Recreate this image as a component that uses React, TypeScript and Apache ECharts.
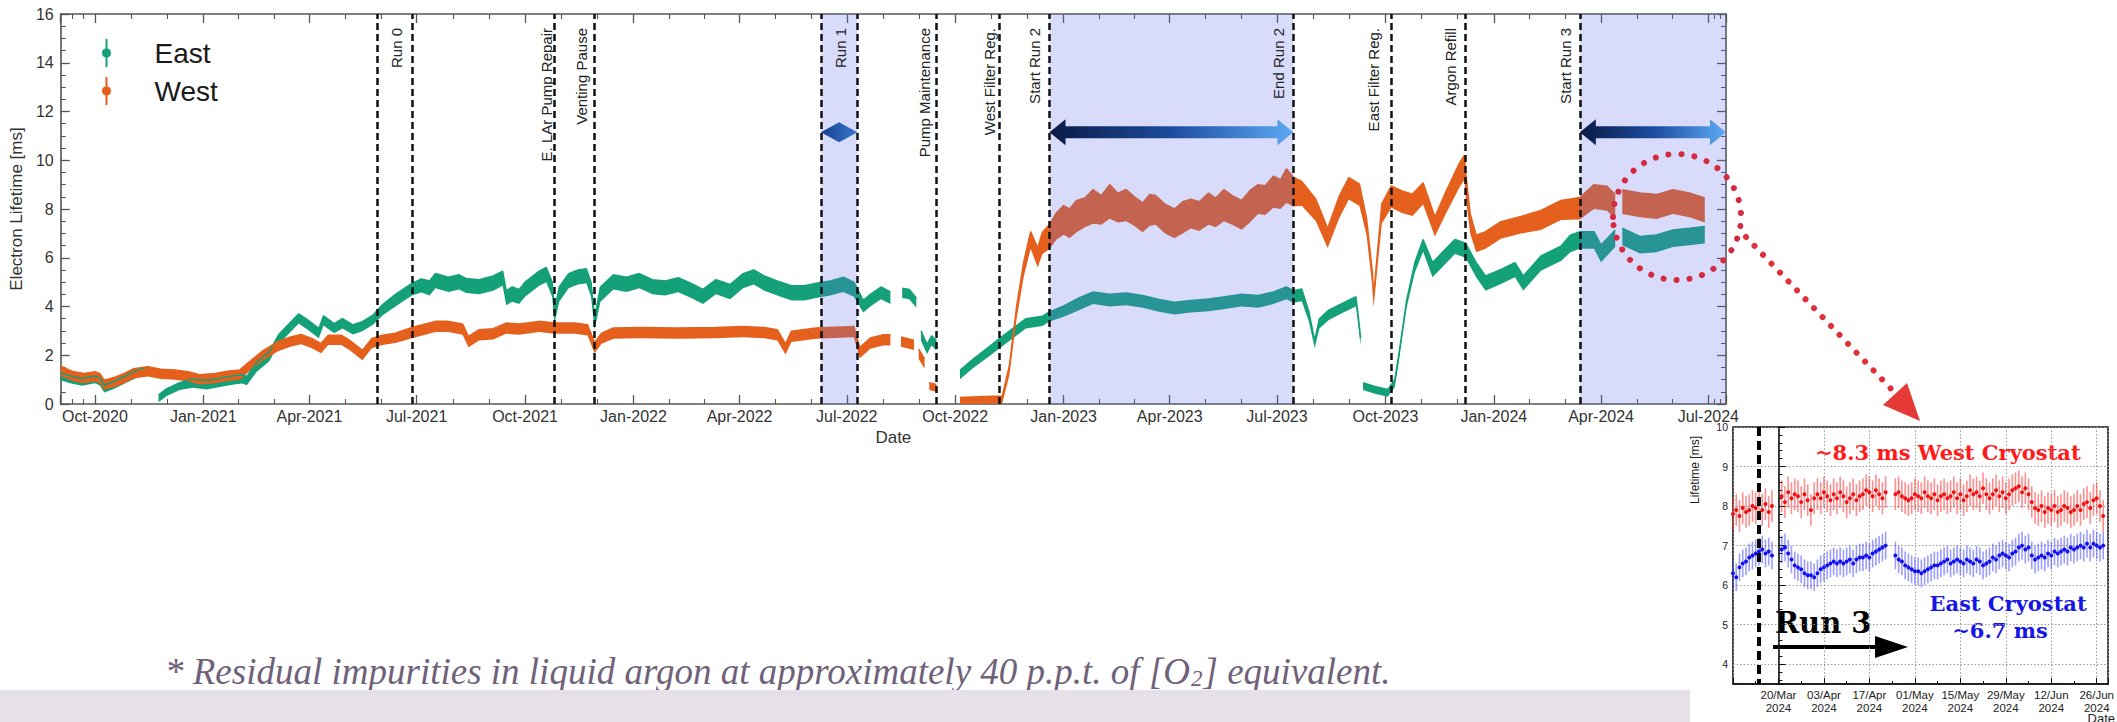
import React, { useEffect, useRef } from 'react';
import * as echarts from 'echarts';

const MONTHS = ['Jan', 'Feb', 'Mar', 'Apr', 'May', 'Jun', 'Jul', 'Aug', 'Sep', 'Oct', 'Nov', 'Dec'];
const DAY = 86400000;

// ---------- main chart data ----------
const xStart = '2020-09-02';
const xEnd = '2024-07-16';

type Pt = [string, number | null, number];

// [date, lifetime (ms), half band width (ms)]
const eastData: Pt[] = [
  ['2020-09-02', 1.12, 0.15], ['2020-09-10', 1.0, 0.15], ['2020-09-20', 0.9, 0.15], ['2020-10-01', 1.0, 0.15],
  ['2020-10-05', 0.92, 0.15], ['2020-10-09', 0.62, 0.15], ['2020-10-16', 0.75, 0.15], ['2020-10-26', 0.98, 0.15],
  ['2020-11-05', 1.22, 0.15], ['2020-11-15', 1.38, 0.15], ['2020-11-20', null, 0],
  ['2020-11-24', 0.22, 0.15], ['2020-12-01', 0.48, 0.15], ['2020-12-12', 0.72, 0.15], ['2020-12-23', 0.85, 0.18],
  ['2021-01-04', 0.78, 0.18], ['2021-01-15', 0.88, 0.18], ['2021-01-27', 0.98, 0.18], ['2021-02-03', 1.02, 0.18],
  ['2021-02-07', 0.95, 0.18], ['2021-02-15', 1.5, 0.2], ['2021-02-26', 1.95, 0.2], ['2021-03-06', 2.65, 0.2],
  ['2021-03-16', 3.15, 0.2], ['2021-03-23', 3.5, 0.2], ['2021-04-01', 3.2, 0.2], ['2021-04-09', 2.9, 0.2],
  ['2021-04-13', 3.42, 0.2], ['2021-04-22', 3.1, 0.2], ['2021-04-29', 3.3, 0.2], ['2021-05-08', 3.05, 0.2],
  ['2021-05-16', 3.18, 0.2], ['2021-05-25', 3.45, 0.2], ['2021-06-02', 3.85, 0.22], ['2021-06-13', 4.25, 0.25],
  ['2021-06-27', 4.7, 0.25], ['2021-07-05', 4.85, 0.28], ['2021-07-12', 4.75, 0.3], ['2021-07-17', 5.05, 0.3],
  ['2021-07-28', 4.9, 0.3], ['2021-08-06', 5.0, 0.3], ['2021-08-12', 4.85, 0.3], ['2021-08-23', 4.8, 0.3],
  ['2021-09-04', 4.95, 0.3], ['2021-09-12', 5.15, 0.3], ['2021-09-15', 4.35, 0.3], ['2021-09-20', 4.5, 0.3],
  ['2021-09-26', 4.4, 0.3], ['2021-10-01', 4.7, 0.3], ['2021-10-13', 5.15, 0.3], ['2021-10-19', 5.3, 0.3],
  ['2021-10-24', 4.7, 0.3], ['2021-10-26', 3.55, 0.25], ['2021-10-30', 4.5, 0.3], ['2021-11-07', 5.05, 0.3],
  ['2021-11-15', 5.2, 0.3], ['2021-11-22', 5.25, 0.3], ['2021-11-26', 4.7, 0.3], ['2021-11-29', 3.3, 0.25],
  ['2021-12-04', 4.5, 0.3], ['2021-12-15', 5.0, 0.3], ['2021-12-26', 4.9, 0.3], ['2022-01-06', 5.05, 0.3],
  ['2022-01-17', 4.8, 0.3], ['2022-01-28', 4.75, 0.3], ['2022-02-08', 4.88, 0.3], ['2022-02-19', 4.65, 0.3],
  ['2022-03-01', 4.4, 0.3], ['2022-03-12', 4.8, 0.3], ['2022-03-24', 4.6, 0.3], ['2022-04-04', 5.05, 0.3],
  ['2022-04-13', 5.2, 0.3], ['2022-04-22', 4.95, 0.3], ['2022-05-03', 4.75, 0.3], ['2022-05-15', 4.55, 0.3],
  ['2022-05-26', 4.55, 0.3], ['2022-06-05', 4.65, 0.3], ['2022-06-17', 4.75, 0.3], ['2022-06-28', 4.9, 0.3],
  ['2022-07-07', 4.7, 0.3], ['2022-07-15', 4.0, 0.25], ['2022-07-21', 4.25, 0.25], ['2022-07-30', 4.55, 0.25],
  ['2022-08-07', 4.35, 0.25], ['2022-08-11', null, 0],
  ['2022-08-17', 4.55, 0.2], ['2022-08-23', 4.5, 0.2], ['2022-08-29', 4.15, 0.2], ['2022-08-31', null, 0],
  ['2022-09-02', 2.8, 0.2], ['2022-09-07', 2.25, 0.2], ['2022-09-11', 2.6, 0.2], ['2022-09-15', 2.4, 0.2],
  ['2022-09-20', null, 0],
  ['2022-10-05', 1.2, 0.18], ['2022-10-16', 1.65, 0.18], ['2022-10-31', 2.2, 0.2], ['2022-11-08', 2.5, 0.2],
  ['2022-11-19', 2.9, 0.2], ['2022-11-30', 3.3, 0.2], ['2022-12-14', 3.4, 0.2], ['2022-12-20', 3.58, 0.2],
  ['2023-01-01', 3.8, 0.22], ['2023-01-14', 4.1, 0.25], ['2023-01-26', 4.35, 0.25], ['2023-02-09', 4.25, 0.25],
  ['2023-02-23', 4.3, 0.25], ['2023-03-09', 4.2, 0.25], ['2023-03-22', 4.05, 0.25], ['2023-04-05', 3.92, 0.25],
  ['2023-04-19', 4.0, 0.25], ['2023-05-04', 4.06, 0.25], ['2023-05-18', 4.15, 0.25], ['2023-06-01', 4.25, 0.25],
  ['2023-06-15', 4.2, 0.25], ['2023-06-28', 4.35, 0.25], ['2023-07-09', 4.55, 0.25], ['2023-07-15', 4.4, 0.25],
  ['2023-07-22', 4.47, 0.25], ['2023-07-28', 3.6, 0.2], ['2023-08-02', 2.45, 0.15], ['2023-08-06', 3.3, 0.2],
  ['2023-08-14', 3.65, 0.2], ['2023-08-25', 3.92, 0.2], ['2023-09-06', 4.2, 0.2], ['2023-09-08', 3.4, 0.2],
  ['2023-09-10', 2.55, 0.15], ['2023-09-11', null, 0],
  ['2023-09-12', 0.72, 0.15], ['2023-09-22', 0.57, 0.15], ['2023-10-03', 0.45, 0.15], ['2023-10-09', 0.85, 0.15],
  ['2023-10-12', 1.75, 0.15], ['2023-10-19', 4.1, 0.15], ['2023-10-26', 5.6, 0.2], ['2023-11-02', 6.5, 0.25],
  ['2023-11-10', 5.5, 0.3], ['2023-11-18', 5.9, 0.3], ['2023-11-29', 6.45, 0.3], ['2023-12-08', 6.3, 0.3],
  ['2023-12-17', 5.5, 0.3], ['2023-12-25', 4.95, 0.3], ['2024-01-07', 5.22, 0.3], ['2024-01-19', 5.5, 0.3],
  ['2024-01-26', 4.95, 0.3], ['2024-02-10', 5.77, 0.3], ['2024-02-27', 6.17, 0.3], ['2024-03-06', 6.58, 0.35],
  ['2024-03-14', 6.72, 0.35], ['2024-03-26', 6.72, 0.35], ['2024-04-01', 6.17, 0.35], ['2024-04-13', 6.79, 0.35],
  ['2024-04-16', null, 0],
  ['2024-04-19', 6.86, 0.35], ['2024-05-04', 6.52, 0.35], ['2024-05-18', 6.58, 0.35], ['2024-06-01', 6.79, 0.35],
  ['2024-06-15', 6.86, 0.35], ['2024-06-28', 6.93, 0.35],
];

const westData: Pt[] = [
  ['2020-09-02', 1.35, 0.2], ['2020-09-13', 1.12, 0.2], ['2020-09-22', 1.05, 0.2], ['2020-10-01', 1.12, 0.2],
  ['2020-10-05', 1.05, 0.2], ['2020-10-09', 0.78, 0.2], ['2020-10-18', 0.9, 0.2], ['2020-10-26', 1.05, 0.2],
  ['2020-11-03', 1.25, 0.2], ['2020-11-15', 1.33, 0.2], ['2020-11-26', 1.23, 0.2], ['2020-12-08', 1.2, 0.2],
  ['2020-12-19', 1.12, 0.2], ['2020-12-29', 1.0, 0.2], ['2021-01-11', 1.05, 0.2], ['2021-01-23', 1.15, 0.2],
  ['2021-02-01', 1.2, 0.2], ['2021-02-09', 1.53, 0.2], ['2021-02-21', 2.0, 0.2], ['2021-03-05', 2.35, 0.2],
  ['2021-03-16', 2.55, 0.2], ['2021-03-25', 2.65, 0.2], ['2021-04-03', 2.49, 0.2], ['2021-04-11', 2.28, 0.2],
  ['2021-04-17', 2.62, 0.2], ['2021-04-28', 2.62, 0.2], ['2021-05-05', 2.42, 0.2], ['2021-05-16', 2.0, 0.2],
  ['2021-05-24', 2.49, 0.2], ['2021-06-02', 2.62, 0.2], ['2021-06-13', 2.7, 0.2], ['2021-06-27', 2.92, 0.22],
  ['2021-07-06', 3.03, 0.22], ['2021-07-17', 3.17, 0.22], ['2021-07-28', 3.17, 0.22], ['2021-08-09', 3.06, 0.22],
  ['2021-08-14', 2.55, 0.22], ['2021-08-23', 2.83, 0.22], ['2021-09-04', 2.87, 0.22], ['2021-09-15', 3.1, 0.22],
  ['2021-09-26', 3.06, 0.22], ['2021-10-13', 3.17, 0.22], ['2021-10-26', 3.1, 0.22], ['2021-11-12', 3.1, 0.22],
  ['2021-11-23', 3.03, 0.22], ['2021-11-29', 2.3, 0.22], ['2021-12-05', 2.69, 0.22], ['2021-12-15', 2.9, 0.22],
  ['2022-01-06', 2.92, 0.22], ['2022-02-08', 2.9, 0.22], ['2022-03-12', 2.92, 0.22], ['2022-04-04', 2.96, 0.22],
  ['2022-04-22', 2.92, 0.22], ['2022-05-03', 2.83, 0.22], ['2022-05-10', 2.25, 0.22], ['2022-05-15', 2.76, 0.22],
  ['2022-06-05', 2.9, 0.22], ['2022-07-07', 2.96, 0.22], ['2022-07-12', 2.1, 0.22], ['2022-07-21', 2.49, 0.22],
  ['2022-08-01', 2.62, 0.22], ['2022-08-07', 2.62, 0.22], ['2022-08-11', null, 0],
  ['2022-08-16', 2.55, 0.2], ['2022-08-27', 2.42, 0.2], ['2022-08-29', null, 0],
  ['2022-08-31', 2.05, 0.2], ['2022-09-05', 1.65, 0.2], ['2022-09-07', null, 0],
  ['2022-09-09', 0.72, 0.15], ['2022-09-15', 0.65, 0.15], ['2022-09-20', null, 0],
  ['2022-10-05', 0.12, 0.15], ['2022-10-20', 0.15, 0.15], ['2022-11-10', 0.18, 0.15], ['2022-11-16', 1.39, 0.2],
  ['2022-11-22', 3.72, 0.25], ['2022-11-28', 5.49, 0.3], ['2022-12-04', 6.72, 0.35], ['2022-12-10', 6.0, 0.4],
  ['2022-12-14', 6.6, 0.45], ['2022-12-20', 6.86, 0.5], ['2022-12-26', 7.3, 0.55], ['2023-01-01', 7.54, 0.6],
  ['2023-01-06', 7.4, 0.6], ['2023-01-12', 7.7, 0.65], ['2023-01-19', 7.85, 0.6], ['2023-01-26', 8.1, 0.7],
  ['2023-02-02', 7.95, 0.6], ['2023-02-09', 8.3, 0.7], ['2023-02-16', 8.05, 0.6], ['2023-02-23', 8.15, 0.65],
  ['2023-03-02', 7.9, 0.6], ['2023-03-09', 7.65, 0.6], ['2023-03-15', 7.95, 0.65], ['2023-03-20', 7.95, 0.6],
  ['2023-03-28', 7.6, 0.6], ['2023-04-05', 7.4, 0.6], ['2023-04-12', 7.65, 0.65], ['2023-04-19', 7.8, 0.6],
  ['2023-04-26', 7.7, 0.6], ['2023-05-04', 8.0, 0.65], ['2023-05-10', 7.85, 0.6], ['2023-05-17', 8.15, 0.65],
  ['2023-05-24', 7.95, 0.6], ['2023-06-01', 7.75, 0.6], ['2023-06-08', 8.1, 0.65], ['2023-06-15', 8.4, 0.6],
  ['2023-06-21', 8.35, 0.6], ['2023-06-28', 8.7, 0.65], ['2023-07-04', 8.6, 0.6], ['2023-07-09', 8.95, 0.7],
  ['2023-07-15', 8.7, 0.6], ['2023-07-22', 8.63, 0.5], ['2023-08-03', 7.95, 0.45], ['2023-08-13', 6.8, 0.4],
  ['2023-08-23', 8.09, 0.45], ['2023-08-31', 8.84, 0.45], ['2023-09-09', 8.57, 0.45], ['2023-09-15', 7.27, 0.35],
  ['2023-09-20', 5.08, 0.3], ['2023-09-21', 4.2, 0.25], ['2023-09-24', 5.77, 0.3], ['2023-09-28', 7.81, 0.4],
  ['2023-10-06', 8.5, 0.45], ['2023-10-15', 8.29, 0.45], ['2023-10-24', 8.16, 0.45], ['2023-11-02', 8.63, 0.45],
  ['2023-11-12', 7.27, 0.4], ['2023-11-21', 8.22, 0.45], ['2023-12-03', 9.4, 0.5], ['2023-12-07', 9.7, 0.5],
  ['2023-12-08', 9.04, 0.5], ['2023-12-12', 7.4, 0.4], ['2023-12-17', 6.58, 0.35], ['2023-12-25', 6.72, 0.35],
  ['2024-01-07', 7.13, 0.35], ['2024-01-24', 7.34, 0.35], ['2024-02-10', 7.54, 0.4], ['2024-02-27', 7.95, 0.4],
  ['2024-03-14', 8.02, 0.45], ['2024-03-26', 8.5, 0.5], ['2024-04-06', 8.43, 0.5], ['2024-04-13', 8.09, 0.5],
  ['2024-04-16', null, 0],
  ['2024-04-19', 8.29, 0.5], ['2024-05-04', 8.16, 0.5], ['2024-05-18', 8.09, 0.5], ['2024-06-01', 8.29, 0.5],
  ['2024-06-15', 8.16, 0.5], ['2024-06-28', 7.95, 0.5],
];

// vertical dashed event lines: [date, label]
const eventLines: [string, string][] = [
  ['2021-05-29', ''], ['2021-06-27', 'Run 0'], ['2021-10-26', 'E. LAr Pump Repair'], ['2021-11-29', 'Venting Pause'],
  ['2022-06-09', ''], ['2022-07-10', 'Run 1'], ['2022-09-15', 'Pump Maintenance'], ['2022-11-07', 'West Filter Reg.'],
  ['2022-12-20', 'Start Run 2'], ['2023-07-15', 'End Run 2'], ['2023-10-06', 'East Filter Reg.'],
  ['2023-12-08', 'Argon Refill'], ['2024-03-14', 'Start Run 3'],
];
// horizontal offset (px) of each label's centre to the left of its line
const eventLabelOffset = [0, 15, 8, 13, 0, 17, 12, 9, 15, 15, 18, 15, 14];

const runPeriods: [string, string][] = [
  ['2022-06-09', '2022-07-10'], ['2022-12-20', '2023-07-15'], ['2024-03-14', '2024-07-16'],
];
const runArrowLevel = 11.15;

// ---------- inset data (one value per day from insetStart) ----------
const insetStart = '2024-03-06';
const insetRef = '2024-03-20';
const insetRunStart = '2024-03-14';
const westInset: (number | null)[] = [
  7.8, 7.9, 7.75, 7.95, 7.85, 7.9, 8.0, 7.95, 8.05, 7.9, 8.05, 7.85, 8.0, null, null,
  8.25, 8.1, 8.35, 8.2, 8.3, 8.25, 8.1, 8.3, 8.15, 7.9, 8.2,
  8.3, 8.2, 8.35, 8.25, 8.15, 8.3, 8.2, 8.35, 8.25, 8.1, 8.2, 8.3, 8.15, 8.25, 8.3, 8.4, 8.35, 8.25, 8.4, 8.3, 8.2, 8.35,
  null, null, 8.3, 8.35, 8.25, 8.2, 8.15, 8.2,
  8.3, 8.25, 8.2, 8.35, 8.25, 8.2, 8.3, 8.15, 8.25, 8.3, 8.2, 8.25, 8.35, 8.2, 8.3, 8.15, 8.25, 8.4, 8.3, 8.35,
  8.25, 8.45, 8.3, 8.2, 8.3, 8.4, 8.25, 8.35, 8.2, 8.3, 8.4,
  8.45, 8.5, 8.35, 8.45, 8.3, 8.1, 7.95, 7.9, 8.0, 7.85, 7.95, 7.9, 8.0, 7.85, 7.9, 8.0, 7.95, 7.85, 7.9, 8.0,
  7.9, 8.05, 8.1, 7.95, 8.15, 8.2, 8.0, 7.75,
];
const eastInset: (number | null)[] = [
  6.3, 6.2, 6.45, 6.55, 6.6, 6.7, 6.75, 6.8, 6.85, 6.9, 6.8, 6.85, 6.75, null, null,
  6.9, 6.95, 6.8, 6.65, 6.5, 6.45, 6.4, 6.3, 6.25, 6.25, 6.2,
  6.3, 6.4, 6.45, 6.5, 6.55, 6.6, 6.55, 6.6, 6.55, 6.6, 6.65, 6.55, 6.65, 6.7, 6.7, 6.75, 6.7, 6.8, 6.85, 6.9, 6.95, 7.0,
  null, null, 6.75, 6.65, 6.6, 6.5, 6.45, 6.4,
  6.35, 6.35, 6.3, 6.35, 6.4, 6.45, 6.5, 6.5, 6.55, 6.6, 6.65, 6.55, 6.6, 6.65, 6.6, 6.55, 6.65, 6.6, 6.55, 6.65,
  6.6, 6.5, 6.55, 6.6, 6.7, 6.65, 6.75, 6.8, 6.75, 6.7, 6.8,
  6.85, 6.95, 7.0, 6.9, 6.95, 6.75, 6.65, 6.7, 6.75, 6.7, 6.8, 6.75, 6.85, 6.8, 6.85, 6.9, 6.85, 6.95, 6.9, 6.95,
  7.0, 6.95, 7.05, 6.95, 7.05, 7.0, 6.95, 7.0,
];
const westInsetErr = 0.4;
const eastInsetErr = 0.35;

// ---------- styling ----------
const EAST = '#14a078';
const WEST = '#e5601c';
const SANS = '"Liberation Sans", Arial, Helvetica, sans-serif';
const SERIF_B = '"DejaVu Serif", serif';
const AXIS = '#555';

const toTs = (s: string) => new Date(s + 'T00:00:00').getTime();

function bandSeries(name: string, color: string, data: Pt[], stack: string, extra: any = {}) {
  const lo = data.map(([d, v, e]) => [toTs(d), v == null ? null : Math.max(0, v - e)]);
  const span = data.map(([d, v, e]) => [toTs(d), v == null ? null : (v - Math.max(0, v - e)) + e]);
  return [
    {
      type: 'line', name: name + '-base', stack, stackStrategy: 'all', data: lo, symbol: 'none',
      lineStyle: { width: 0, opacity: 0 }, silent: true, z: 2, xAxisIndex: 0, yAxisIndex: 0,
    },
    {
      type: 'line', name, stack, stackStrategy: 'all', data: span, symbol: 'none', color,
      itemStyle: { color }, lineStyle: { color, width: 1.5 }, areaStyle: { color, opacity: 1 },
      silent: true, z: 2, xAxisIndex: 0, yAxisIndex: 0, ...extra,
    },
  ];
}

function fmtMain(v: number) {
  const d = new Date(v);
  if (d.getDate() !== 1 || d.getMonth() % 3 !== 0) return '';
  return MONTHS[d.getMonth()] + '-' + d.getFullYear();
}

const insetOffset0 = Math.round((toTs(insetStart) - toTs(insetRef)) / DAY);
function insetPoints(vals: (number | null)[], err: number) {
  const out: number[][] = [];
  vals.forEach((v, i) => { if (v != null) out.push([insetOffset0 + i, v, err]); });
  return out;
}
function fmtInset(v: number) {
  if (v < 0) return '';
  const d = new Date(toTs(insetRef) + v * DAY);
  const dd = String(d.getDate()).padStart(2, '0');
  return dd + '/' + MONTHS[d.getMonth()] + '\n' + d.getFullYear();
}

function errorBarRender(bar: string, dot: string) {
  return (params: any, api: any) => {
    const x = api.value(0), v = api.value(1), e = api.value(2);
    const t = api.coord([x, v + e]);
    const b = api.coord([x, v - e]);
    const m = api.coord([x, v]);
    return {
      type: 'group',
      children: [
        { type: 'line', shape: { x1: t[0], y1: t[1], x2: b[0], y2: b[1] }, style: { stroke: bar, lineWidth: 1.6 } },
        { type: 'circle', shape: { cx: m[0], cy: m[1], r: 2 }, style: { fill: dot } },
      ],
    };
  };
}

function staticGraphics(): any[] {
  return [
    // inset axis titles
    { type: 'text', x: 1695, y: 470, rotation: Math.PI / 2, style: { text: 'Lifetime [ms]', fontSize: 12, fontFamily: SANS, fill: '#222', align: 'center', verticalAlign: 'middle' } },
    { type: 'text', x: 2115, y: 718, style: { text: 'Date', fontSize: 13, fontFamily: SANS, fill: '#222', align: 'right', verticalAlign: 'middle' } },
    // inset annotations
    { type: 'text', x: 1815, y: 452, style: { text: '~8.3 ms West Cryostat', fontSize: 21, fontWeight: 'bold', fontFamily: SERIF_B, fill: '#ff1a1a', align: 'left', verticalAlign: 'middle' } },
    { type: 'text', x: 2008, y: 603, style: { text: 'East Cryostat', fontSize: 21, fontWeight: 'bold', fontFamily: SERIF_B, fill: '#1515e6', align: 'center', verticalAlign: 'middle' } },
    { type: 'text', x: 2000, y: 630, style: { text: '~6.7 ms', fontSize: 21, fontWeight: 'bold', fontFamily: SERIF_B, fill: '#1515e6', align: 'center', verticalAlign: 'middle' } },
    { type: 'text', x: 1775, y: 623, style: { text: 'Run 3', fontSize: 29, fontWeight: 'bold', fontFamily: SERIF_B, fill: '#000', align: 'left', verticalAlign: 'middle' } },
    { type: 'polygon', shape: { points: [[1773, 645], [1875, 645], [1875, 636], [1908, 647], [1875, 658], [1875, 649], [1773, 649]] }, style: { fill: '#000' } },
    // dotted highlight ellipse + pointer
    { type: 'ellipse', shape: { cx: 1677, cy: 217, rx: 64, ry: 63 }, style: { fill: 'none', stroke: '#d42a40', lineWidth: 6, lineDash: [0.01, 13], lineCap: 'round' }, z: 10 },
    { type: 'line', shape: { x1: 1746, y1: 237, x2: 1896, y2: 394 }, style: { stroke: '#e0303a', lineWidth: 6, lineDash: [0.01, 12.3], lineCap: 'round' }, z: 10 },
    { type: 'polygon', shape: { points: [[1920, 421], [1883, 405], [1907, 383]] }, style: { fill: '#e53935' }, z: 10 },
    // footnote
    {
      type: 'text', x: 165, y: 671,
      style: {
        text: '{a|* Residual impurities in liquid argon at approximately 40 p.p.t. of [O}{s|2}{a|] equivalent.}',
        verticalAlign: 'middle', align: 'left',
        rich: {
          a: { fontSize: 37, fontStyle: 'italic', fontFamily: '"Liberation Serif", "Times New Roman", serif', fill: '#6f617a', verticalAlign: 'bottom' },
          s: { fontSize: 23, fontStyle: 'italic', fontFamily: '"Liberation Serif", "Times New Roman", serif', fill: '#6f617a', verticalAlign: 'bottom', padding: [0, 1, 0, 1] },
        },
      },
    },
    // bottom strip
    { type: 'rect', shape: { x: 0, y: 690, width: 1690, height: 32 }, style: { fill: '#e6e1e9' }, z: 0 },
  ];
}

function buildOption() {
  const markLineData = eventLines.map(([d]) => ({ xAxis: toTs(d) }));

  const eastSeries = bandSeries('East', EAST, eastData, 'east', {
    markLine: {
      silent: true, symbol: ['none', 'none'], animation: false,
      lineStyle: { color: '#111', width: 2.5, type: [7, 4] },
      label: { show: false },
      emphasis: { disabled: true },
      data: markLineData,
    },
  });
  const westSeries = bandSeries('West', WEST, westData, 'west');

  const mainAxisCommon = {
    type: 'time', gridIndex: 0, min: toTs(xStart), max: toTs(xEnd),
    splitNumber: 15, minInterval: 91 * DAY, maxInterval: 92 * DAY,
    axisLine: { show: true, onZero: false, lineStyle: { color: AXIS, width: 1.6 } },
    axisTick: { show: true, inside: true, length: 9, lineStyle: { color: AXIS, width: 1.3 } },
    minorTick: { show: true, splitNumber: 3, length: 5, lineStyle: { color: AXIS, width: 1.1 } },
    splitLine: { show: false },
  };
  const yAxisCommon = {
    type: 'value', gridIndex: 0, min: 0, max: 16, interval: 2,
    axisLine: { show: true, onZero: false, lineStyle: { color: AXIS, width: 1.6 } },
    axisTick: { show: true, inside: true, length: 9, lineStyle: { color: AXIS, width: 1.3 } },
    minorTick: { show: true, splitNumber: 4, length: 5, lineStyle: { color: AXIS, width: 1.1 } },
    splitLine: { show: false },
  };

  const legendIcon = 'path://M4,0H6V9.613A4.5,4.5,0,0,1,6,18.387V28H4V18.387A4.5,4.5,0,0,1,4,9.613Z';

  return {
    animation: false,
    backgroundColor: '#ffffff',
    grid: [
      { left: 52, top: 14, right: 391, bottom: 318, containLabel: false },
      { left: 1733, top: 427, right: 2, bottom: 38, containLabel: false, show: true, borderColor: '#111', borderWidth: 1.6, backgroundColor: 'transparent' },
    ],
    legend: {
      data: [
        { name: 'East', itemStyle: { color: EAST } },
        { name: 'West', itemStyle: { color: WEST } },
      ],
      orient: 'vertical', left: 97, top: 34, icon: legendIcon, itemWidth: 10, itemHeight: 28, itemGap: 10,
      selectedMode: false,
      textStyle: { fontSize: 28, color: '#1a1a1a', fontFamily: SANS, lineHeight: 28, padding: [0, 0, 0, 38] },
    },
    xAxis: [
      {
        ...mainAxisCommon, position: 'bottom',
        axisLabel: { formatter: fmtMain, fontSize: 16, color: '#333', margin: 4, fontFamily: SANS, showMinLabel: false, showMaxLabel: false, hideOverlap: false },
        name: 'Date', nameLocation: 'middle', nameGap: 21, nameTextStyle: { fontSize: 17, color: '#333', fontFamily: SANS },
      },
      { ...mainAxisCommon, position: 'top', axisLabel: { show: false } },
      {
        type: 'value', gridIndex: 1, min: -14, max: 101.5, interval: 14,
        axisLine: { show: true, lineStyle: { color: '#111', width: 1.6 } },
        axisTick: { show: true, inside: true, length: 6, lineStyle: { color: '#111' } },
        minorTick: { show: true, splitNumber: 2, length: 3, lineStyle: { color: '#111' } },
        splitLine: { show: true, lineStyle: { color: '#9a9a9a', type: [1.5, 2], width: 1 } },
        axisLabel: { formatter: fmtInset, fontSize: 11.5, lineHeight: 13, color: '#222', margin: 4, fontFamily: SANS, showMinLabel: false },
      },
    ],
    yAxis: [
      {
        ...yAxisCommon, position: 'left',
        axisLabel: { fontSize: 16, color: '#333', margin: 7, fontFamily: SANS },
        name: 'Electron Lifetime [ms]', nameLocation: 'middle', nameGap: 30,
        nameTextStyle: { fontSize: 17, color: '#333', fontFamily: SANS },
      },
      { ...yAxisCommon, position: 'right', axisLabel: { show: false } },
      {
        type: 'value', gridIndex: 1, min: 3.5, max: 10, splitNumber: 6, minInterval: 1, maxInterval: 1,
        axisLine: { show: true, lineStyle: { color: '#111', width: 1.6 } },
        axisTick: { show: true, inside: true, length: 7, lineStyle: { color: '#111' } },
        minorTick: { show: true, splitNumber: 5, length: 4, lineStyle: { color: '#111' } },
        splitLine: { show: true, lineStyle: { color: '#9a9a9a', type: [1.5, 2], width: 1 } },
        axisLabel: { fontSize: 10.5, lineHeight: 11, color: '#222', margin: 5, fontFamily: SANS, showMinLabel: false, formatter: (v: number) => (v % 1 === 0 ? String(v) : '') },
      },
    ],
    series: [
      ...eastSeries,
      ...westSeries,
      {
        type: 'custom', name: 'runBands', xAxisIndex: 0, yAxisIndex: 0, z: 3, silent: true,
        data: runPeriods.map(([a, b]) => [toTs(a), toTs(b)]),
        encode: { x: [0, 1] },
        renderItem: (params: any, api: any) => {
          const cs = params.coordSys;
          const a = api.coord([api.value(0), 0]);
          const b = api.coord([api.value(1), 0]);
          const x0 = Math.max(a[0], cs.x);
          const x1 = Math.min(b[0], cs.x + cs.width);
          return { type: 'rect', shape: { x: x0, y: cs.y, width: x1 - x0, height: cs.height }, style: { fill: 'rgba(100,112,236,0.25)' } };
        },
      },
      {
        type: 'custom', name: 'runArrows', xAxisIndex: 0, yAxisIndex: 0, z: 5, silent: true,
        data: runPeriods.map(([a, b]) => [toTs(a), toTs(b), runArrowLevel]),
        encode: { x: [0, 1], y: 2 },
        renderItem: (params: any, api: any) => {
          const a = api.coord([api.value(0), api.value(2)]);
          const b = api.coord([api.value(1), api.value(2)]);
          const x0 = a[0], x1 = b[0], y = a[1];
          const w = x1 - x0;
          const hl = 16, hh = 13, sh = 6;
          let pts: number[][];
          let stops;
          if (w < 2 * hl + 10) {
            pts = [[x0, y], [x0 + w / 2, y - 10], [x1, y], [x0 + w / 2, y + 10]];
            stops = [{ offset: 0, color: '#173f8c' }, { offset: 1, color: '#3a7bd0' }];
          } else {
            pts = [[x0, y], [x0 + hl, y - hh], [x0 + hl, y - sh], [x1 - hl, y - sh], [x1 - hl, y - hh], [x1, y],
              [x1 - hl, y + hh], [x1 - hl, y + sh], [x0 + hl, y + sh], [x0 + hl, y + hh]];
            stops = [{ offset: 0, color: '#0a1a45' }, { offset: 0.5, color: '#1c4c9e' }, { offset: 1, color: '#5eaaf2' }];
          }
          return { type: 'polygon', shape: { points: pts }, style: { fill: new echarts.graphic.LinearGradient(0, 0, 1, 0, stops) } };
        },
      },
      {
        type: 'custom', name: 'westInset', xAxisIndex: 2, yAxisIndex: 2, z: 2, silent: true,
        data: insetPoints(westInset, westInsetErr), encode: { x: 0, y: 1 },
        renderItem: errorBarRender('rgba(255,50,50,0.55)', '#f01010'),
      },
      {
        type: 'custom', name: 'eastInset', xAxisIndex: 2, yAxisIndex: 2, z: 2, silent: true,
        data: insetPoints(eastInset, eastInsetErr), encode: { x: 0, y: 1 },
        renderItem: errorBarRender('rgba(60,60,255,0.5)', '#1010f0'),
      },
      {
        type: 'custom', name: 'insetRun3', xAxisIndex: 2, yAxisIndex: 2, z: 3, silent: true,
        data: [[Math.round((toTs(insetRunStart) - toTs(insetRef)) / DAY), 5]], encode: { x: 0, y: 1 },
        renderItem: (params: any, api: any) => {
          const cs = params.coordSys;
          const p = api.coord([api.value(0), api.value(1)]);
          return { type: 'line', shape: { x1: p[0], y1: cs.y, x2: p[0], y2: cs.y + cs.height }, style: { stroke: '#000', lineWidth: 4, lineDash: [9, 5] } };
        },
      },
    ],
    graphic: staticGraphics(),
  };
}

export default function App() {
  const ref = useRef<HTMLDivElement>(null);
  useEffect(() => {
    if (!ref.current) return;
    const chart = echarts.init(ref.current, undefined, { renderer: 'svg' });
    chart.setOption(buildOption() as any);
    // event labels placed beside their dashed lines, using the axis scale
    const labels: any[] = [];
    eventLines.forEach(([d, label], i) => {
      if (!label) return;
      const x = chart.convertToPixel({ xAxisIndex: 0 }, toTs(d)) as number;
      labels.push({
        type: 'text', x: x - eventLabelOffset[i], y: 28, rotation: Math.PI / 2, z: 4,
        style: { text: label, fontSize: 15, fontFamily: SANS, fill: '#222', align: 'right', verticalAlign: 'middle' },
      });
    });
    chart.setOption({ graphic: [...staticGraphics(), ...labels] } as any);
    return () => chart.dispose();
  }, []);
  return <div ref={ref} style={{ position: 'fixed', left: 0, top: 0, width: 2117, height: 722, background: '#fff' }} />;
}
